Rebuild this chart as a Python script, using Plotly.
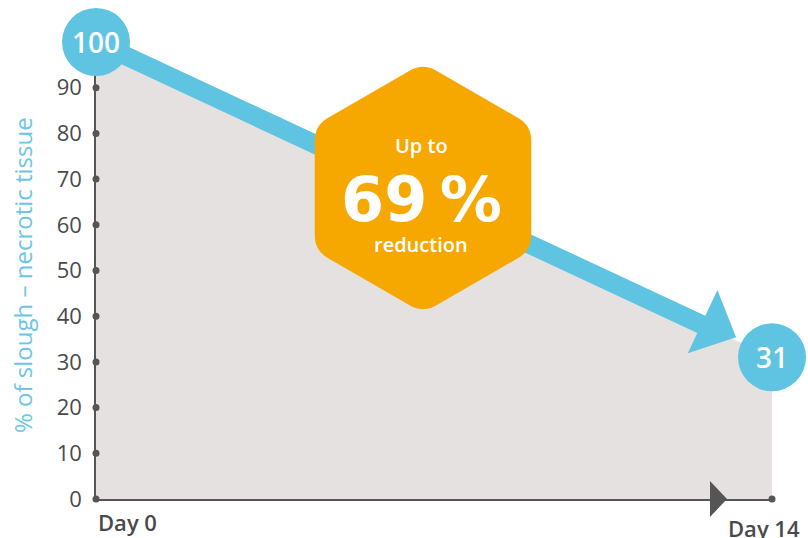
import math
import plotly.graph_objects as go

# ---------------- data ----------------
days = [0, 14]
slough_pct = [100, 31]
y_ticks = [0, 10, 20, 30, 40, 50, 60, 70, 80, 90]
day_labels = ["Day 0", "Day 14"]
y_title = "% of slough – necrotic tissue"
badge_lines = ["Up to", "69\u2009%", "reduction"]

# ---------------- styling ----------------
BLUE = "#5EC4E2"
ORANGE = "#F7A800"
FILL = "#E5E1E1"
AXIS = "#555555"
TEXT = "#4a4a4a"
TITLE_BLUE = "#6DC6E5"

W, H = 808, 538
ML, MR, MT, MB = 96, 36, 42, 39
PW, PH = W - ML - MR, H - MT - MB
XR = [0, 14]
YR = [0, 100]


def to_px(x, y):
    return (ML + (x - XR[0]) / (XR[1] - XR[0]) * PW,
            MT + (YR[1] - y) / (YR[1] - YR[0]) * PH)


def to_paper(x, y):
    return (x - XR[0]) / (XR[1] - XR[0]), (y - YR[0]) / (YR[1] - YR[0])


ORIGIN = to_px(0, 0)


def off(X, Y):
    """screen pixel -> pixel offset from plot origin (y up)"""
    return X - ORIGIN[0], ORIGIN[1] - Y


def path_from(points, closed=True):
    s = ""
    for i, (X, Y) in enumerate(points):
        ox, oy = off(X, Y)
        s += ("M" if i == 0 else "L") + f"{ox:.2f},{oy:.2f} "
    return s + ("Z" if closed else "")


PIX = dict(xref="paper", yref="paper", xsizemode="pixel", ysizemode="pixel",
           xanchor=0, yanchor=0, layer="above")

fig = go.Figure()

# shaded area under the reduction line
fig.add_trace(go.Scatter(x=days, y=slough_pct, fill="tozeroy", fillcolor=FILL,
                         mode="none", hoverinfo="skip"))
# tick dots on the y axis
fig.add_trace(go.Scatter(x=[days[0]] * len(y_ticks), y=y_ticks, mode="markers",
                         marker=dict(size=7, color=AXIS), cliponaxis=False,
                         hoverinfo="skip"))
# end dot on the x axis
fig.add_trace(go.Scatter(x=[days[-1]], y=[0], mode="markers",
                         marker=dict(size=7, color=AXIS), cliponaxis=False,
                         hoverinfo="skip"))

shapes = []

# ---- x-axis arrow head ----
ax_tri = [(ORIGIN[0] + 614, ORIGIN[1] - 18), (ORIGIN[0] + 631, ORIGIN[1]),
          (ORIGIN[0] + 614, ORIGIN[1] + 18)]
shapes.append(dict(type="path", path=path_from(ax_tri), fillcolor=AXIS,
                   line=dict(width=0), **PIX))

# ---- thick arrow along the data line ----
p0 = to_px(days[0], slough_pct[0])
p1 = to_px(days[1], slough_pct[1])
dx, dy = p1[0] - p0[0], p1[1] - p0[1]
L = math.hypot(dx, dy)
u = (dx / L, dy / L)
n = (-u[1], u[0])
tip_a = L - 41
base_a = tip_a - 37
sh = 9.5
hh = 35


def pt(a, p):
    return (p0[0] + u[0] * a + n[0] * p, p0[1] + u[1] * a + n[1] * p)


arrow_pts = [pt(0, -sh), pt(base_a, -sh), pt(base_a, -hh - 3), pt(tip_a, -3),
             pt(base_a, hh - 3), pt(base_a, sh), pt(0, sh)]
shapes.append(dict(type="path", path=path_from(arrow_pts), fillcolor=BLUE,
                   line=dict(width=0), **PIX))

# ---- hexagon badge with rounded corners ----
cx, cy, R, d = 423, 188, 125, 15
verts = []
for k in range(6):
    ang = math.radians(-90 + 60 * k)
    verts.append((cx + R * math.cos(ang), cy + R * math.sin(ang)))
segs = ""
for k in range(6):
    V = verts[k]
    P = verts[k - 1]
    N = verts[(k + 1) % 6]
    lp = math.hypot(P[0] - V[0], P[1] - V[1])
    A = (V[0] + (P[0] - V[0]) * d / lp, V[1] + (P[1] - V[1]) * d / lp)
    B = (V[0] + (N[0] - V[0]) * d / lp, V[1] + (N[1] - V[1]) * d / lp)
    a = off(*A)
    v = off(*V)
    b = off(*B)
    segs += ("M" if k == 0 else "L") + f"{a[0]:.2f},{a[1]:.2f} "
    segs += f"Q{v[0]:.2f},{v[1]:.2f} {b[0]:.2f},{b[1]:.2f} "
segs += "Z"
shapes.append(dict(type="path", path=segs, fillcolor=ORANGE,
                   line=dict(width=0), **PIX))

# ---- value circles ----
for xv, yv in zip(days, slough_pct):
    xa, ya = to_paper(xv, yv)
    c = dict(PIX)
    c.update(xanchor=xa, yanchor=ya)
    shapes.append(dict(type="circle", x0=-34, x1=34, y0=-34, y1=34,
                       fillcolor=BLUE, line=dict(width=0), **c))

annotations = []
for xv, yv in zip(days, slough_pct):
    annotations.append(dict(x=xv, y=yv, xref="x", yref="y", text=str(yv), showarrow=False,
                            xanchor="center", yanchor="middle",
                            font=dict(family="Open Sans", size=28, color="white", weight=600)))

# day labels
annotations.append(dict(x=days[0], y=0, xref="x", yref="y", text=day_labels[0],
                        showarrow=False, xanchor="left", yanchor="middle", yshift=-23,
                        font=dict(family="Open Sans", size=22, color=TEXT, weight=600)))
annotations.append(dict(x=days[1], y=0, xref="x", yref="y", text=day_labels[1],
                        showarrow=False, xanchor="center", yanchor="middle",
                        xshift=-8, yshift=-29,
                        font=dict(family="Open Sans", size=22, color=TEXT, weight=600)))

# y-axis title
annotations.append(dict(x=(22 - ML) / PW, y=(ORIGIN[1] - 275) / PH, xref="paper",
                        yref="paper", text=y_title, textangle=-90, showarrow=False,
                        xanchor="center", yanchor="middle",
                        font=dict(family="Open Sans", size=24, color=TITLE_BLUE)))


def paper(X, Y):
    return (X - ML) / PW, (ORIGIN[1] - Y) / PH


for txt, ycen, size, fam in [(badge_lines[0], 145, 20, "Open Sans"),
                             (badge_lines[1], 199, 62, "DejaVu Sans"),
                             (badge_lines[2], 245, 20, "Open Sans")]:
    xp, yp = paper(421, ycen)
    annotations.append(dict(x=xp, y=yp, xref="paper", yref="paper", text=txt,
                            showarrow=False, xanchor="center", yanchor="middle",
                            font=dict(family=fam, size=size, color="white",
                                      weight=700 if size > 40 else 600)))

fig.update_layout(
    width=W, height=H,
    margin=dict(l=ML, r=MR, t=MT, b=MB, pad=0),
    paper_bgcolor="white", plot_bgcolor="white",
    showlegend=False, hovermode=False,
    shapes=shapes, annotations=annotations,
    xaxis=dict(range=XR, showgrid=False, zeroline=False, showticklabels=False,
               showline=True, linecolor=AXIS, linewidth=1.5, ticks=""),
    yaxis=dict(range=YR, showgrid=False, zeroline=False, tickvals=y_ticks,
               showline=True, linecolor=AXIS, linewidth=1.5, ticks="outside",
               ticklen=8, tickcolor="rgba(0,0,0,0)",
               tickfont=dict(family="Open Sans", size=22, color=TEXT)),
)

fig.write_html("out.html", config={"displayModeBar": False})
